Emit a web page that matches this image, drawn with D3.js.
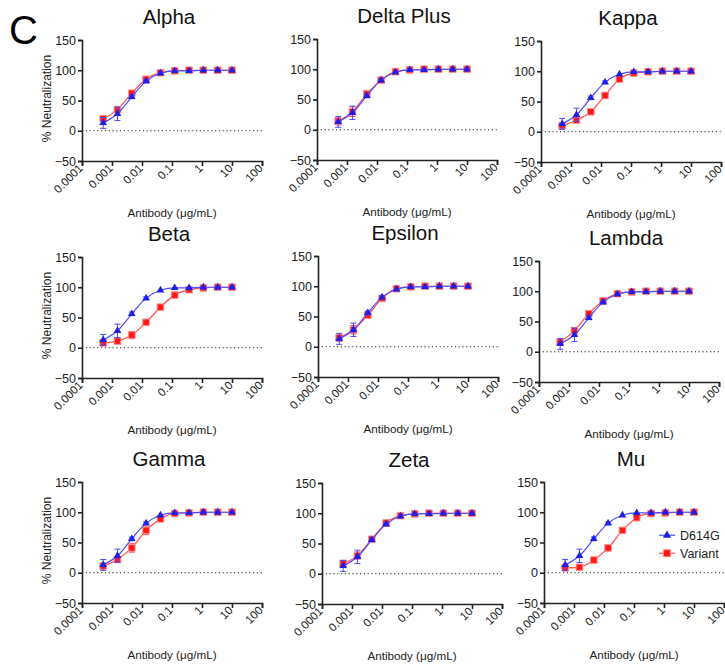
<!DOCTYPE html>
<html>
<head>
<meta charset="utf-8">
<script src="https://cdn.jsdelivr.net/npm/d3@7"></script>
<style>
body { margin: 0; background: #fff; }
svg { display: block; font-family: Arial, "Liberation Sans", sans-serif; }
</style>
</head>
<body>
<div id="chart"></div>
<script>
// antibody concentrations (3-fold dilutions from 10 ug/mL)
const concentrations = [0.000508, 0.00152, 0.00457, 0.0137, 0.0412, 0.123, 0.370, 1.11, 3.33, 10];
const xTickValues = [0.0001, 0.001, 0.01, 0.1, 1, 10, 100];
const xTickLabels = ["0.0001", "0.001", "0.01", "0.1", "1", "10", "100"];
const yTickValues = [-50, 0, 50, 100, 150];

const variantNames = ["Alpha", "Delta Plus", "Kappa", "Beta", "Epsilon", "Lambda", "Gamma", "Zeta", "Mu"];
const seriesNames = ["D614G", "Variant"];

// D614G reference, same in every panel
const d614g = [13, 28, 56, 82, 95, 99, 99, 100, 100, 100];
const d614gErr = [9, 11, 3, 2, 1, 1, 0, 0, 0, 0];

const alpha = [20, 35, 62, 85, 96, 99, 100, 100, 100, 100];
const alphaErr = [4, 5, 4, 2, 1, 1, 0, 0, 0, 0];
const deltaPlus = [14, 30, 59, 82, 96, 99, 100, 100, 100, 100];
const deltaPlusErr = [6, 8, 6, 3, 1, 1, 0, 0, 0, 0];
const kappa = [10, 19, 33, 60, 87, 97, 99, 100, 100, 100];
const kappaErr = [3, 3, 3, 3, 2, 1, 0, 0, 0, 0];
const beta = [8, 11, 21, 42, 67, 87, 96, 99, 100, 100];
const betaErr = [3, 4, 6, 3, 2, 2, 1, 0, 0, 0];
const epsilon = [15, 28, 52, 80, 96, 99, 100, 100, 100, 100];
const epsilonErr = [6, 7, 5, 3, 1, 1, 0, 0, 0, 0];
const lambda = [16, 35, 63, 84, 96, 99, 100, 100, 100, 100];
const lambdaErr = [5, 4, 3, 2, 1, 1, 0, 0, 0, 0];
const gamma = [11, 22, 41, 70, 89, 98, 99, 100, 100, 100];
const gammaErr = [4, 4, 7, 7, 3, 1, 0, 0, 0, 0];
const zeta = [17, 30, 57, 84, 96, 99, 100, 100, 100, 100];
const zetaErr = [5, 6, 4, 2, 1, 1, 0, 0, 0, 0];
const mu = [8, 9, 21, 41, 70, 91, 98, 99, 100, 100];
const muErr = [3, 2, 2, 2, 2, 2, 1, 0, 0, 0];

const variantValues = [alpha, deltaPlus, kappa, beta, epsilon, lambda, gamma, zeta, mu];
const variantErrors = [alphaErr, deltaPlusErr, kappaErr, betaErr, epsilonErr, lambdaErr, gammaErr, zetaErr, muErr];

const width = 725, height = 667;
const panelW = 180, panelH = 121;
const panelLeft = [[82, 317, 541], [82, 318, 539], [82, 322, 544]];
const panelTop = [[40, 39, 41], [257, 256, 261], [482, 483, 482]];

const blue = "#1f1fe6", blueLine = "#4a4aff";
const red = "#ff1a1a", redLine = "#ff4d4d";

const svg = d3.select("#chart")
    .append("svg")
    .attr("width", width)
    .attr("height", height);

svg.append("text")
    .attr("x", 9)
    .attr("y", 44)
    .attr("font-size", 40)
    .attr("fill", "#000")
    .text("C");

function drawSeries(g, x, y, values, errors, color, lineColor, shape) {
    const pts = concentrations.map((c, i) => ({ c: c, v: values[i], e: errors[i] }));

    g.append("path")
        .datum(pts)
        .attr("fill", "none")
        .attr("stroke", lineColor)
        .attr("stroke-width", 1.2)
        .attr("d", d3.line()
            .x(d => x(d.c))
            .y(d => y(d.v))
            .curve(d3.curveMonotoneX));

    const err = g.append("g")
        .attr("stroke", lineColor)
        .attr("stroke-width", 1);
    pts.filter(d => d.e > 1).forEach(d => {
        const cx = x(d.c);
        err.append("line").attr("x1", cx).attr("x2", cx).attr("y1", y(d.v - d.e)).attr("y2", y(d.v + d.e));
        err.append("line").attr("x1", cx - 3).attr("x2", cx + 3).attr("y1", y(d.v - d.e)).attr("y2", y(d.v - d.e));
        err.append("line").attr("x1", cx - 3).attr("x2", cx + 3).attr("y1", y(d.v + d.e)).attr("y2", y(d.v + d.e));
    });

    const sym = shape == "triangle"
        ? d3.symbol(d3.symbolTriangle, 26)
        : d3.symbol(d3.symbolSquare, 44);
    g.append("g")
        .selectAll("path")
        .data(pts)
        .join("path")
        .attr("transform", d => "translate(" + x(d.c) + "," + y(d.v) + ")")
        .attr("d", sym)
        .attr("fill", color)
        .attr("stroke", shape == "triangle" ? "none" : "#ff9090")
        .attr("stroke-width", 1);
}

variantNames.forEach((name, k) => {
    const row = Math.floor(k / 3), col = k % 3;
    const left = panelLeft[row][col], top = panelTop[row][col];

    const g = svg.append("g")
        .attr("transform", "translate(" + left + "," + top + ")");

    const x = d3.scaleLog()
        .domain([0.0001, 100])
        .range([0, panelW]);
    const y = d3.scaleLinear()
        .domain([-50, 150])
        .range([panelH, 0]);

    // zero line
    g.append("line")
        .attr("x1", 0)
        .attr("x2", panelW)
        .attr("y1", y(0))
        .attr("y2", y(0))
        .attr("stroke", "#222")
        .attr("stroke-width", 1)
        .attr("stroke-dasharray", "1.2,2.6");

    const yAxis = g.append("g")
        .call(d3.axisLeft(y).tickValues(yTickValues).tickSize(4).tickPadding(2));
    const xAxis = g.append("g")
        .attr("transform", "translate(0," + panelH + ")")
        .call(d3.axisBottom(x).tickValues(xTickValues).tickSize(5)
            .tickFormat((d, i) => xTickLabels[i]));

    [xAxis, yAxis].forEach(a => {
        a.select(".domain").attr("stroke", "#222").attr("stroke-width", 1.6);
        a.selectAll(".tick line").attr("stroke", "#222").attr("stroke-width", 1.6);
        a.selectAll("text").attr("font-size", 11.5).attr("fill", "#222")
            .attr("font-family", "Arial, 'Liberation Sans', sans-serif");
    });
    yAxis.selectAll("text").attr("font-size", 12.5);
    xAxis.selectAll("text")
        .attr("text-anchor", "end")
        .attr("dy", null)
        .attr("y", 0)
        .attr("transform", "translate(1,8) rotate(-45)");

    drawSeries(g, x, y, variantValues[k], variantErrors[k], red, redLine, "square");
    drawSeries(g, x, y, d614g, d614gErr, blue, blueLine, "triangle");

    g.append("text")
        .attr("x", panelW / 2 - 3)
        .attr("y", -16)
        .attr("text-anchor", "middle")
        .attr("font-size", 20.5)
        .attr("fill", "#111")
        .text(name);

    g.append("text")
        .attr("x", panelW / 2)
        .attr("y", panelH + 56)
        .attr("text-anchor", "middle")
        .attr("font-size", 11.7)
        .attr("fill", "#222")
        .text("Antibody (\u03bcg/mL)");

    if (col == 0) {
        g.append("text")
            .attr("transform", "translate(-31," + (panelH / 2 - 2) + ") rotate(-90)")
            .attr("text-anchor", "middle")
            .attr("font-size", 12)
            .attr("fill", "#222")
            .text("%  Neutralization");
    }

    if (k == variantNames.length - 1) {
        const legend = g.append("g")
            .attr("transform", "translate(115," + y(62) + ")");
        const colors = [[blue, blueLine, d3.symbolTriangle, 30, "none"], [red, redLine, d3.symbolSquare, 50, "#ff9090"]];
        seriesNames.forEach((s, i) => {
            const row = legend.append("g").attr("transform", "translate(0," + i * 18 + ")");
            row.append("line")
                .attr("x1", 0).attr("x2", 16)
                .attr("stroke", colors[i][1]).attr("stroke-width", 1.2);
            row.append("path")
                .attr("transform", "translate(8,0)")
                .attr("d", d3.symbol(colors[i][2], colors[i][3]))
                .attr("fill", colors[i][0])
                .attr("stroke", colors[i][4]);
            row.append("text")
                .attr("x", 21)
                .attr("y", 4.5)
                .attr("font-size", 12.5)
                .attr("fill", "#222")
                .text(s);
        });
    }
});
</script>
</body>
</html>
